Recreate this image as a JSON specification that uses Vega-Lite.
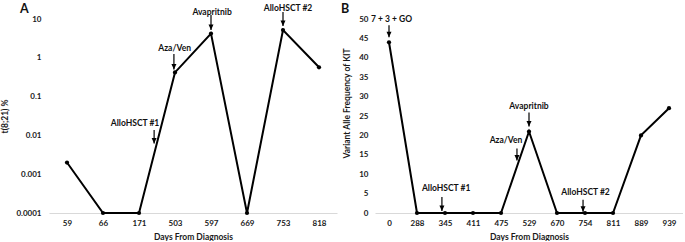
{
  "$schema": "https://vega.github.io/schema/vega-lite/v6.json",
  "padding": {"left": 0, "top": 3, "right": 0, "bottom": 0},
  "background": "white",
  "spacing": 4,
  "config": {
    "font": "Lato",
    "view": {"stroke": null},
    "axis": {
      "domainColor": "#d9d9d9",
      "domainWidth": 1.2,
      "ticks": false,
      "grid": false,
      "labelOverlap": false,
      "labelFont": "Lato",
      "labelFontSize": 8,
      "labelFontWeight": "bold",
      "labelColor": "#1a1a1a",
      "titleFont": "Lato",
      "titleFontSize": 8.5,
      "titleFontWeight": "bold",
      "titleColor": "#1a1a1a"
    },
    "title": {"font": "Lato", "fontSize": 12.5, "fontWeight": "bold", "color": "#111", "anchor": "start", "frame": "group"}
  },
  "datasets": {
    "a": [
      {"day": "59", "pct": 0.002},
      {"day": "66", "pct": 0.0001},
      {"day": "171", "pct": 0.0001},
      {"day": "503", "pct": 0.42},
      {"day": "597", "pct": 4.2},
      {"day": "669", "pct": 0.0001},
      {"day": "753", "pct": 5.2},
      {"day": "818", "pct": 0.57}
    ],
    "a_notes": [
      {"label": "AlloHSCT #1", "tx": 1.89, "ty": 0.021, "ax": 2.42, "top": 0.0138, "tip": 0.0062},
      {"label": "Aza/Ven", "tx": 2.99, "ty": 1.79, "ax": 2.97, "top": 1.25, "tip": 0.5},
      {"label": "Avapritnib", "tx": 4.03, "ty": 15.1, "ax": 4.0, "top": 12.7, "tip": 5.2},
      {"label": "AlloHSCT #2", "tx": 6.14, "ty": 19.2, "ax": 6.0, "top": 15.1, "tip": 6.6}
    ],
    "b": [
      {"day": "0", "vaf": 44},
      {"day": "288", "vaf": 0},
      {"day": "345", "vaf": 0},
      {"day": "411", "vaf": 0},
      {"day": "475", "vaf": 0},
      {"day": "529", "vaf": 21},
      {"day": "670", "vaf": 0},
      {"day": "754", "vaf": 0},
      {"day": "811", "vaf": 0},
      {"day": "889", "vaf": 20},
      {"day": "939", "vaf": 27}
    ],
    "b_notes": [
      {"label": "7 + 3 + GO", "tx": 0.09, "ty": 50, "ax": 0.0, "top": 48.4, "tip": 45.3},
      {"label": "AlloHSCT #1", "tx": 2.04, "ty": 6.5, "ax": 1.89, "top": 4.1, "tip": 0.5},
      {"label": "Aza/Ven", "tx": 4.18, "ty": 18.7, "ax": 4.57, "top": 16.6, "tip": 13.5},
      {"label": "Avapritnib", "tx": 5.0, "ty": 27.5, "ax": 5.0, "top": 25.9, "tip": 22.3},
      {"label": "AlloHSCT #2", "tx": 7.02, "ty": 5.4, "ax": 6.93, "top": 3.4, "tip": 0.3}
    ]
  },
  "hconcat": [
    {
      "width": 288,
      "height": 194,
      "title": {"text": "A", "dx": -29, "offset": -11.8, "frame": "group", "anchor": "start"},
      "resolve": {"scale": {"x": "independent"}, "axis": {"x": "independent", "y": "independent"}},
      "layer": [
        {
          "data": {"name": "a"},
          "mark": {"type": "line", "color": "black", "strokeWidth": 2, "point": {"filled": true, "size": 18, "color": "black"}},
          "encoding": {
            "x": {
              "field": "day", "type": "ordinal", "sort": null,
              "scale": {"type": "point", "padding": 0.5},
              "axis": {"title": "Days From Diagnosis", "labelAngle": 0, "labelPadding": 6, "titlePadding": 5}
            },
            "y": {
              "field": "pct", "type": "quantitative",
              "scale": {"type": "log", "domain": [0.0001, 10], "nice": false},
              "axis": {"title": "t(8;21) %", "values": [0.0001, 0.001, 0.01, 0.1, 1, 10], "format": "~g", "labelOverlap": false, "domain": false, "labelPadding": 8, "titlePadding": 6}
            }
          }
        },
        {
          "data": {"name": "a_notes"},
          "mark": {"type": "rule", "color": "black", "strokeWidth": 1.2},
          "encoding": {
            "x": {"field": "ax", "type": "quantitative", "scale": {"domain": [-0.5, 7.5], "nice": false, "zero": false}, "axis": null},
            "y": {"field": "top", "type": "quantitative", "axis": null},
            "y2": {"field": "tip"}
          }
        },
        {
          "data": {"name": "a_notes"},
          "mark": {"type": "point", "shape": "M-1,-2.2L1,-2.2L0,0Z", "filled": true, "size": 25, "color": "black", "opacity": 1},
          "encoding": {
            "x": {"field": "ax", "type": "quantitative", "scale": {"domain": [-0.5, 7.5], "nice": false, "zero": false}, "axis": null},
            "y": {"field": "tip", "type": "quantitative", "axis": null}
          }
        },
        {
          "data": {"name": "a_notes"},
          "mark": {"type": "text", "fontSize": 8.5, "fontWeight": "bold", "color": "#111", "align": "center", "baseline": "middle"},
          "encoding": {
            "x": {"field": "tx", "type": "quantitative", "scale": {"domain": [-0.5, 7.5], "nice": false, "zero": false}, "axis": null},
            "y": {"field": "ty", "type": "quantitative", "axis": null},
            "text": {"field": "label"}
          }
        }
      ]
    },
    {
      "width": 308,
      "height": 194,
      "title": {"text": "B", "dx": -34, "offset": -0.5, "frame": "group", "anchor": "start"},
      "resolve": {"scale": {"x": "independent"}, "axis": {"x": "independent", "y": "independent"}},
      "layer": [
        {
          "data": {"name": "b"},
          "mark": {"type": "line", "color": "black", "strokeWidth": 2, "point": {"filled": true, "size": 18, "color": "black"}},
          "encoding": {
            "x": {
              "field": "day", "type": "ordinal", "sort": null,
              "scale": {"type": "point", "padding": 0.5},
              "axis": {"title": "Days From Diagnosis", "labelAngle": 0, "labelPadding": 6, "titlePadding": 5}
            },
            "y": {
              "field": "vaf", "type": "quantitative",
              "scale": {"domain": [0, 50], "nice": false},
              "axis": {"title": "Variant Alle Frequency of KIT", "values": [0, 5, 10, 15, 20, 25, 30, 35, 40, 45, 50], "labelOverlap": false, "domain": false, "labelPadding": 7, "titlePadding": 7, "titleY": 84}
            }
          }
        },
        {
          "data": {"name": "b_notes"},
          "mark": {"type": "rule", "color": "black", "strokeWidth": 1.2},
          "encoding": {
            "x": {"field": "ax", "type": "quantitative", "scale": {"domain": [-0.5, 10.5], "nice": false, "zero": false}, "axis": null},
            "y": {"field": "top", "type": "quantitative", "axis": null},
            "y2": {"field": "tip"}
          }
        },
        {
          "data": {"name": "b_notes"},
          "mark": {"type": "point", "shape": "M-1,-2.2L1,-2.2L0,0Z", "filled": true, "size": 25, "color": "black", "opacity": 1},
          "encoding": {
            "x": {"field": "ax", "type": "quantitative", "scale": {"domain": [-0.5, 10.5], "nice": false, "zero": false}, "axis": null},
            "y": {"field": "tip", "type": "quantitative", "axis": null}
          }
        },
        {
          "data": {"name": "b_notes"},
          "mark": {"type": "text", "fontSize": 8.5, "fontWeight": "bold", "color": "#111", "align": "center", "baseline": "middle"},
          "encoding": {
            "x": {"field": "tx", "type": "quantitative", "scale": {"domain": [-0.5, 10.5], "nice": false, "zero": false}, "axis": null},
            "y": {"field": "ty", "type": "quantitative", "axis": null},
            "text": {"field": "label"}
          }
        }
      ]
    }
  ]
}
